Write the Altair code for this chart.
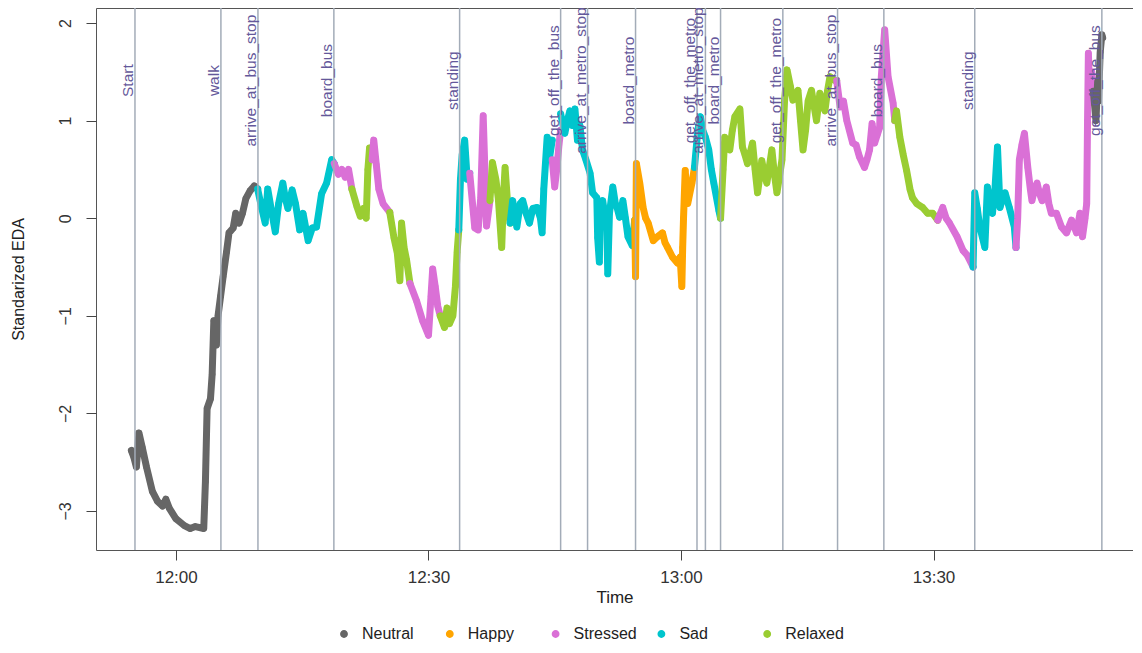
import altair as alt
import pandas as pd

# ---------------- data (minutes after 12:00, standardized EDA) ----------------
emotions = ["Neutral", "Happy", "Stressed", "Sad", "Relaxed"]
emotion_colors = ["#666666", "#FFA500", "#DA70D6", "#00C5CD", "#9ACD32"]

neutral_1_t = [-5.3, -5.0, -4.7, -4.4, -4.0, -3.5, -2.8, -2.2, -1.6, -1.2, -0.8, 0.0, 1.0, 1.7, 2.3, 3.3,
               3.5, 3.7, 4.1, 4.3, 4.5, 4.8, 5.0, 5.3, 5.6, 6.0, 6.3, 6.8, 7.1, 7.5, 7.9, 8.3, 8.8, 9.3, 9.7]
neutral_1_v = [-2.38, -2.45, -2.55, -2.2, -2.35, -2.55, -2.8, -2.9, -2.95, -2.88, -2.97, -3.08, -3.15, -3.18,
               -3.16, -3.18, -2.7, -1.95, -1.85, -1.6, -1.05, -1.3, -1.0, -0.8, -0.6, -0.35, -0.15, -0.1, 0.05,
               -0.05, 0.05, 0.2, 0.28, 0.33, 0.3]

sad_1_t = [9.7, 10.2, 10.6, 10.9, 11.3, 11.8, 12.2, 12.7, 13.0, 13.3, 13.8, 14.2, 14.7, 15.1, 15.7, 16.2,
           16.7, 17.3, 17.9, 18.5, 18.8]
sad_1_v = [0.3, 0.1, -0.05, 0.3, 0.1, -0.14, 0.15, 0.36, 0.2, 0.1, 0.29, 0.15, -0.12, 0.05, -0.23, -0.1,
           -0.09, 0.25, 0.36, 0.6, 0.56]

stressed_1_t = [18.8, 19.3, 19.7, 20.1, 20.5, 20.9]
stressed_1_v = [0.56, 0.45, 0.5, 0.42, 0.5, 0.3]

relaxed_1_t = [20.9, 21.5, 21.9, 22.3, 22.6, 22.8, 23.0, 23.3]
relaxed_1_v = [0.3, 0.12, 0.02, 0.1, 0.0, 0.5, 0.72, 0.6]

stressed_2_t = [23.3, 23.5, 23.8, 24.1, 24.6, 25.4]
stressed_2_v = [0.6, 0.8, 0.55, 0.3, 0.15, 0.06]

relaxed_2_t = [25.4, 25.9, 26.3, 26.6, 26.8, 27.1, 27.4, 27.8]
relaxed_2_v = [0.06, -0.2, -0.36, -0.64, -0.05, -0.3, -0.43, -0.67]

stressed_3_t = [27.8, 28.6, 29.3, 30.0, 30.3, 30.5, 30.8, 31.1, 31.4]
stressed_3_v = [-0.67, -0.85, -1.05, -1.2, -0.8, -0.52, -0.7, -0.9, -1.0]

relaxed_3_t = [31.4, 31.9, 32.2, 32.5, 32.9, 33.2, 33.4, 33.6]
relaxed_3_v = [-1.0, -1.12, -0.92, -1.08, -1.0, -0.7, -0.35, -0.12]

sad_2_t = [33.6, 33.8, 34.0, 34.3, 34.6, 34.9]
sad_2_v = [-0.12, 0.4, 0.65, 0.8, 0.4, 0.46]

stressed_4_t = [34.9, 35.5, 35.9, 36.2, 36.5, 36.7, 36.9, 37.3]
stressed_4_v = [0.46, -0.1, -0.12, 0.2, 1.05, 0.5, -0.08, 0.18]

relaxed_4_t = [37.3, 37.6, 38.0, 38.3, 38.7, 38.9, 39.1, 39.4, 39.7]
relaxed_4_v = [0.18, 0.57, 0.4, 0.2, -0.3, 0.2, 0.52, 0.15, -0.05]

sad_3_t = [39.7, 40.0, 40.5, 40.9, 41.2, 41.6, 42.0, 42.4, 42.9, 43.3, 43.5, 43.7, 44.1, 44.4, 44.7]
sad_3_v = [-0.05, 0.18, -0.09, 0.15, 0.18, 0.05, -0.05, 0.1, 0.11, 0.0, -0.15, 0.3, 0.83, 0.63, 0.8]

stressed_5_t = [44.7, 45.0, 45.3, 45.5, 45.7]
stressed_5_v = [0.6, 0.32, 0.55, 0.75, 0.9]

sad_4_t = [45.7, 46.2, 46.5, 46.8, 47.1, 47.4, 47.7, 48.0, 48.3, 48.7, 49.2, 49.5, 50.0, 50.1, 50.3, 50.4,
           50.7, 51.0, 51.2, 51.3, 51.5, 51.9, 52.2, 52.4, 52.7, 53.1, 53.4, 53.7, 54.2, 54.5]
sad_4_v = [1.07, 0.87, 1.0, 1.1, 0.95, 1.12, 0.8, 0.95, 0.7, 0.6, 0.46, 0.26, 0.21, -0.2, -0.45, 0.05,
           0.18, 0.0, -0.12, -0.57, 0.05, 0.32, 0.15, 0.11, 0.01, 0.18, 0.0, -0.19, -0.28, -0.02]

happy_1_t = [54.5, 54.6, 54.7, 55.1, 55.5, 55.8, 56.1, 56.7, 57.2, 57.8, 58.1, 58.4, 59.0, 59.6, 59.9, 60.1,
             60.2, 60.3, 60.5, 60.8, 61.3, 61.6]
happy_1_v = [-0.02, -0.6, 0.56, 0.36, 0.11, 0.0, -0.05, -0.23, -0.19, -0.15, -0.25, -0.3, -0.4, -0.46, -0.4,
             -0.7, -0.3, 0.0, 0.49, 0.15, 0.36, 0.52]

sad_5_t = [61.6, 62.0, 62.3, 62.6, 62.9, 63.3, 63.6, 63.9, 64.5, 64.7]
sad_5_v = [0.52, 0.9, 1.04, 0.9, 0.83, 0.7, 0.5, 0.36, 0.08, 0.0]

relaxed_5_t = [64.7, 65.0, 65.2, 65.5, 65.8, 66.1, 66.4, 67.0, 67.3, 67.6, 67.9, 68.5, 68.8, 69.1, 69.6, 69.9,
               70.2, 70.8, 71.1, 71.4, 72.0, 72.3, 72.6, 73.0, 73.3, 73.9, 74.2, 74.5, 74.8, 75.1, 75.5,
               76.1, 76.5, 77.1, 77.4, 77.7, 78.3, 78.5]
relaxed_5_v = [0.0, 0.5, 0.83, 0.75, 0.7, 0.9, 1.04, 1.12, 0.73, 0.65, 0.56, 0.77, 0.5, 0.26, 0.59, 0.45,
               0.36, 0.7, 0.45, 0.26, 0.6, 1.2, 1.52, 1.35, 1.21, 1.31, 1.0, 0.7, 0.9, 1.2, 1.31,
               1.0, 1.28, 1.1, 1.3, 1.45, 1.41, 1.41]

stressed_6_t = [78.5, 78.9, 79.3, 79.7, 80.4, 80.8, 81.2, 81.8, 82.1, 82.4, 82.7, 83.0, 83.3, 83.6, 83.8,
                84.2, 84.6, 85.2, 85.4]
stressed_6_v = [1.41, 1.14, 1.2, 1.0, 0.77, 0.75, 0.63, 0.52, 0.6, 0.7, 0.97, 0.77, 0.85, 0.93, 1.45,
                1.93, 1.45, 1.18, 1.0]

relaxed_6_t = [85.4, 85.6, 86.0, 86.4, 86.8, 87.2, 87.5, 88.0, 88.7, 89.3, 89.9, 90.5]
relaxed_6_v = [1.0, 1.1, 0.83, 0.65, 0.49, 0.3, 0.21, 0.15, 0.11, 0.05, 0.05, -0.02]

stressed_7_t = [90.5, 91.1, 91.5, 91.9, 92.8, 93.5, 94.0, 94.7]
stressed_7_v = [-0.02, 0.11, 0.0, -0.05, -0.19, -0.33, -0.38, -0.5]

sad_6_t = [94.7, 94.9, 95.2, 95.5, 96.1, 96.4, 96.7, 97.0, 97.3, 97.6, 97.9, 98.2, 98.5, 99.0, 99.6, 99.8]
sad_6_v = [-0.5, 0.26, 0.1, -0.09, -0.3, 0.32, 0.15, 0.05, 0.3, 0.73, 0.11, 0.2, 0.26, 0.11, -0.09, -0.3]

stressed_8_t = [99.8, 100.0, 100.2, 100.5, 100.8, 101.2, 101.5, 101.7, 102.0, 102.3, 102.6, 102.9, 103.4,
                103.7, 104.0, 104.6, 105.2, 105.8, 106.4, 107.0, 107.4, 107.7, 108.0, 108.2, 108.3, 108.4,
                108.6, 108.8, 109.0]
stressed_8_v = [-0.3, 0.0, 0.6, 0.75, 0.87, 0.52, 0.3, 0.18, 0.3, 0.36, 0.25, 0.18, 0.32,
                0.15, 0.05, 0.05, -0.09, -0.15, -0.02, -0.15, 0.05, -0.19, 0.0, 0.15, 1.0, 1.69,
                1.18, 1.5, 1.3]

neutral_2_t = [109.0, 109.1, 109.3, 109.5, 109.6, 109.8, 110.0, 110.1]
neutral_2_v = [1.3, 1.2, 1.0, 1.4, 1.2, 1.7, 1.88, 1.85]

segments = [
    ("Neutral", neutral_1_t, neutral_1_v), ("Sad", sad_1_t, sad_1_v),
    ("Stressed", stressed_1_t, stressed_1_v), ("Relaxed", relaxed_1_t, relaxed_1_v),
    ("Stressed", stressed_2_t, stressed_2_v), ("Relaxed", relaxed_2_t, relaxed_2_v),
    ("Stressed", stressed_3_t, stressed_3_v), ("Relaxed", relaxed_3_t, relaxed_3_v),
    ("Sad", sad_2_t, sad_2_v), ("Stressed", stressed_4_t, stressed_4_v),
    ("Relaxed", relaxed_4_t, relaxed_4_v), ("Sad", sad_3_t, sad_3_v),
    ("Stressed", stressed_5_t, stressed_5_v), ("Sad", sad_4_t, sad_4_v),
    ("Happy", happy_1_t, happy_1_v), ("Sad", sad_5_t, sad_5_v),
    ("Relaxed", relaxed_5_t, relaxed_5_v), ("Stressed", stressed_6_t, stressed_6_v),
    ("Relaxed", relaxed_6_t, relaxed_6_v), ("Stressed", stressed_7_t, stressed_7_v),
    ("Sad", sad_6_t, sad_6_v), ("Stressed", stressed_8_t, stressed_8_v),
    ("Neutral", neutral_2_t, neutral_2_v),
]

event_names = ["Start", "walk", "arrive_at_bus_stop", "board_bus", "standing", "get_off_the_bus",
               "arrive_at_metro_stop", "board_metro", "get_off_the_metro", "arrive_at_metro_stop",
               "board_metro", "get_off_the_metro", "arrive_at_bus_stop", "board_bus", "standing",
               "get_off_the_bus"]
event_minutes = [-4.87, 5.34, 9.74, 18.76, 33.7, 45.7, 48.9, 54.6, 61.9, 62.9, 64.7, 72.1, 78.6, 84.1,
                 94.9, 110.0]
event_label_y = 1.41

y_ticks = [-3, -2, -1, 0, 1, 2]
x_tick_labels = ["12:00", "12:30", "13:00", "13:30"]

# ---------------- build tables ----------------
base = pd.Timestamp("2020-01-01 12:00:00")
rows = []
for i, (emo, ts, vs) in enumerate(segments):
    for k, (t, v) in enumerate(zip(ts, vs)):
        rows.append({"time": base + pd.to_timedelta(t, unit="m"), "eda": v,
                     "emotion": emo, "seg": i, "ord": k})
df = pd.DataFrame(rows)

ev = pd.DataFrame({"time": [base + pd.to_timedelta(m, unit="m") for m in event_minutes],
                   "event": event_names})


def dt(h, m, s=0):
    return alt.DateTime(year=2020, month=1, date=1, hours=h, minutes=m, seconds=s)


tick_values = []
for lab in x_tick_labels:
    hh, mm = lab.split(":")
    tick_values.append(dt(int(hh), int(mm)))

FONT = "Liberation Sans"

x_scale = alt.Scale(domain=[dt(11, 50, 30), dt(13, 53, 42)], nice=False)
y_scale = alt.Scale(domain=[-3.40, 2.154], nice=False, zero=False)

color = alt.Color(
    "emotion:N",
    scale=alt.Scale(domain=emotions, range=emotion_colors),
    legend=alt.Legend(
        title=None, orient="none", legendX=240, legendY=618, direction="horizontal",
        columns=5, gridAlign="all", columnPadding=15.8, symbolType="circle", symbolSize=40,
        labelFont=FONT, labelFontSize=16, labelColor="#222222", padding=0, labelOffset=10,
    ),
)

x_enc = alt.X("time:T", scale=x_scale,
              axis=alt.Axis(title="Time", values=tick_values, format="%H:%M", grid=False,
                            domain=False, tickColor="#444444", tickSize=10, labelPadding=9,
                            labelFont=FONT, labelFontSize=17, labelColor="#333333",
                            titleFont=FONT, titleFontSize=17, titleFontWeight="normal",
                            titleColor="#222222", titleY=39, titleBaseline="top"))
y_enc = alt.Y("eda:Q", scale=y_scale,
              axis=alt.Axis(title="Standarized EDA", values=y_ticks, format="d", grid=False,
                            domain=False, tickColor="#444444", tickSize=10, labelPadding=13,
                            labelAngle=270, labelAlign="center", labelBaseline="bottom",
                            labelFont=FONT, labelFontSize=16, labelColor="#333333",
                            titleFont=FONT, titleFontSize=16, titleFontWeight="normal",
                            titleColor="#222222", titleX=-70))

points = alt.Chart(df).mark_circle(size=40, opacity=1).encode(x=x_enc, y=y_enc, color=color)
lines = alt.Chart(df).mark_line(strokeWidth=7, strokeCap="round", strokeJoin="round").encode(
    x=x_enc, y=y_enc, color=color, detail="seg:N", order="ord:Q")

rules = alt.Chart(ev).mark_rule(color="#a3acb8", strokeWidth=1.5).encode(x=alt.X("time:T", scale=x_scale))
texts = alt.Chart(ev).mark_text(angle=270, align="center", baseline="alphabetic", dy=-2,
                                font=FONT, fontSize=15.5, color="#64589a").encode(
    x=alt.X("time:T", scale=x_scale), y=alt.datum(event_label_y, type="quantitative", scale=y_scale),
    text="event:N")

chart = alt.layer(points, lines, rules, texts).properties(
    width=1037, height=542,
    autosize=alt.AutoSizeParams(type="none"),
    padding={"left": 88, "top": 0, "right": 0, "bottom": 95},
).configure_view(stroke="#555555", strokeWidth=1)

chart.save("out.html", embed_options={"renderer": "svg", "actions": False})
